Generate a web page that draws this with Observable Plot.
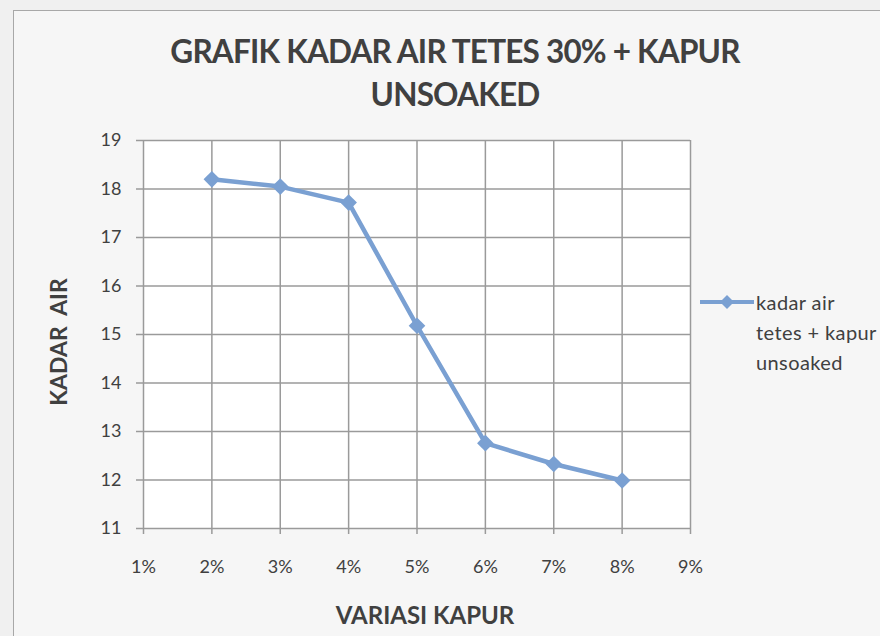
<!DOCTYPE html>
<html>
<head>
<meta charset="utf-8">
<script src="https://cdn.jsdelivr.net/npm/d3@7"></script>
<script src="https://cdn.jsdelivr.net/npm/@observablehq/plot@0.6"></script>
<style>
  html, body { margin: 0; padding: 0; background: #f0f0f0; }
  #wrap { position: relative; width: 880px; height: 636px; overflow: hidden; font-family: Lato, "Open Sans", sans-serif; background: #f0f0f0; }
  #chartbox { position: absolute; left: 13px; top: 10px; width: 900px; height: 700px; border: 1.5px solid #a8a8a8; background: #f6f6f6; }
  #title { position: absolute; left: 0; top: 30px; width: 910px; text-align: center; font-weight: bold; font-size: 31.5px; line-height: 43px; color: #404040; letter-spacing: -0.8px; }
  #plot { position: absolute; left: 0; top: 0; }
  .ylab { position: absolute; left: 58px; top: 342px; transform: translate(-50%, -50%) rotate(-90deg); font-weight: bold; font-size: 23px; color: #404040; white-space: nowrap; }
  .xlab { position: absolute; left: 425px; top: 614px; transform: translate(-50%, -50%); font-weight: bold; font-size: 24px; color: #404040; white-space: nowrap; }
  #legend { position: absolute; left: 700px; top: 287px; }
  #legend .txt { position: absolute; left: 56px; top: 0; font-size: 20px; letter-spacing: 0.4px; line-height: 30px; color: #404040; white-space: nowrap; }
</style>
</head>
<body>
<div id="wrap">
  <div id="chartbox"></div>
  <div id="title">GRAFIK KADAR AIR TETES 30% + KAPUR<br>UNSOAKED</div>
  <div id="plot"></div>
  <div class="ylab">KADAR&nbsp; AIR</div>
  <div class="xlab">VARIASI KAPUR</div>
  <div id="legend">
    <svg width="56" height="30" style="position:absolute;left:0;top:0">
      <line x1="0" y1="15" x2="54" y2="15" stroke="#7aa0d2" stroke-width="4"></line>
      <path d="M27,8 L34,15 L27,22 L20,15 Z" fill="#7aa0d2"></path>
    </svg>
    <div class="txt">kadar air<br>tetes + kapur<br>unsoaked</div>
  </div>
</div>
<script>
const kapur = [2, 3, 4, 5, 6, 7, 8];
const kadarAir = [18.2, 18.05, 17.72, 15.18, 12.76, 12.33, 11.99];
const xTicks = [1, 2, 3, 4, 5, 6, 7, 8, 9];
const yTicks = [11, 12, 13, 14, 15, 16, 17, 18, 19];
const seriesName = "kadar air tetes + kapur unsoaked";

const data = kapur.map((k, i) => ({kapur: k, kadar: kadarAir[i]}));
const lineColor = "#7aa0d2";
const gridColor = "#9a9a9a";

const chart = Plot.plot({
  width: 880,
  height: 636,
  marginLeft: 143,
  marginRight: 190,
  marginTop: 140,
  marginBottom: 108,
  style: {background: "transparent", fontFamily: "Lato, 'Open Sans', sans-serif", color: "#404040"},
  x: {domain: [1, 9], label: null},
  y: {domain: [11, 19], label: null},
  marks: [
    Plot.frame({fill: "white", stroke: null}),
    Plot.gridX(xTicks, {stroke: gridColor, strokeOpacity: 1, strokeWidth: 1.5}),
    Plot.gridY(yTicks, {stroke: gridColor, strokeOpacity: 1, strokeWidth: 1.5}),
    Plot.axisX(xTicks, {tickFormat: d => d + "%", tickSize: 6, tickPadding: 26, fontSize: 18, stroke: gridColor, strokeWidth: 1.5, fill: "#404040", label: null}),
    Plot.axisY(yTicks, {tickSize: 7, tickPadding: 15, fontSize: 18, stroke: gridColor, strokeWidth: 1.5, fill: "#404040", label: null}),
    Plot.line(data, {x: "kapur", y: "kadar", stroke: lineColor, strokeWidth: 4.5, strokeLinejoin: "round"}),
    Plot.dot(data, {x: "kapur", y: "kadar", symbol: "diamond2", r: 7.5, fill: lineColor, stroke: null})
  ]
});
document.getElementById("plot").appendChild(chart);
</script>
</body>
</html>
